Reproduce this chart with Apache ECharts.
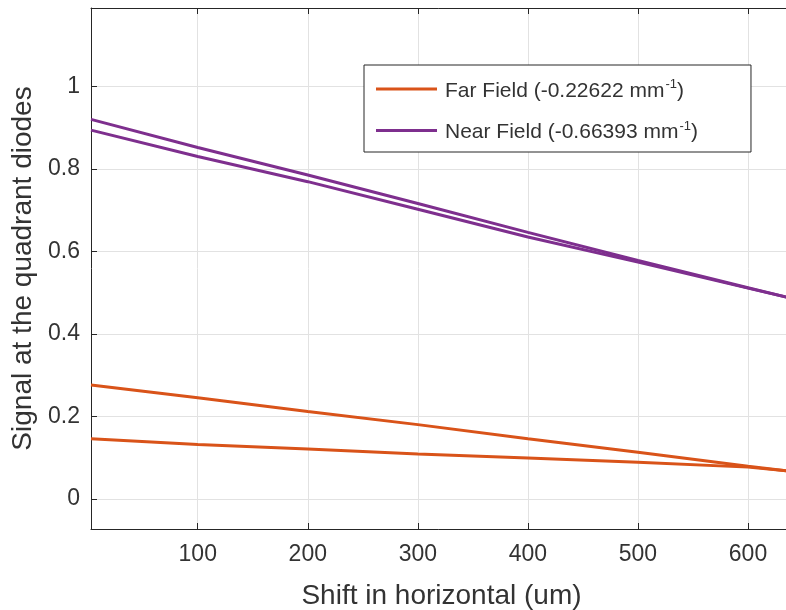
<!DOCTYPE html>
<html>
<head>
<meta charset="utf-8">
<script src="https://cdn.jsdelivr.net/npm/echarts@6/dist/echarts.min.js"></script>
<style>
  html, body { margin: 0; padding: 0; background: #fff; }
  #chart { width: 786px; height: 610px; }
</style>
</head>
<body>
<div id="chart"></div>
<script>
var shift = [3, 100, 200, 300, 400, 500, 600, 635];
var farA = [0.276, 0.245, 0.212, 0.180, 0.146, 0.113, 0.079, 0.068];
var farB = [0.146, 0.132, 0.121, 0.109, 0.099, 0.089, 0.077, 0.068];
var nearA = [0.920, 0.852, 0.785, 0.716, 0.646, 0.578, 0.512, 0.489];
var nearB = [0.894, 0.830, 0.769, 0.702, 0.635, 0.574, 0.511, 0.489];
var xTicks = [100, 200, 300, 400, 500, 600];
var yTicks = [0, 0.2, 0.4, 0.6, 0.8, 1];

var farColor = '#D95319';
var nearColor = '#7E2F8E';
var axisColor = '#262626';
var textColor = '#333333';
var font = 'Liberation Sans, Arial, Helvetica, sans-serif';

function pairs(ys) {
    return shift.map(function (x, i) { return [x, ys[i]]; });
}

function lineSeries(name, ys, color) {
    return {
        name: name,
        type: 'line',
        xAxisIndex: 0,
        data: pairs(ys),
        symbol: 'none',
        lineStyle: { color: color, width: 3 },
        itemStyle: { color: color },
        animation: false
    };
}

var legendNames = {
    'Far Field': '{f|Far Field (-0.22622 mm}{s|-1}{t|)}',
    'Near Field': '{f|Near Field (-0.66393 mm}{s|-1}{t|)}'
};

var option = {
    animation: false,
    backgroundColor: '#fff',
    textStyle: { fontFamily: font },
    grid: { left: 91, top: 8, width: 701, height: 521, containLabel: false, outerBoundsMode: 'none' },
    legend: {
        left: 364, top: 65,
        orient: 'vertical',
        padding: [13, 53, 9, 12],
        itemGap: 18,
        itemWidth: 61,
        itemHeight: 3,
        borderColor: axisColor,
        borderWidth: 1,
        borderRadius: 0,
        backgroundColor: '#fff',
        data: [
            { name: 'Far Field', icon: 'rect' },
            { name: 'Near Field', icon: 'rect' }
        ],
        formatter: function (name) { return legendNames[name]; },
        textStyle: {
            rich: {
                f: { fontSize: 21, color: textColor, fontFamily: font, padding: [4, 0, 0, 3] },
                t: { fontSize: 21, color: textColor, fontFamily: font, padding: [4, 0, 0, 0] },
                s: { fontSize: 13, color: textColor, fontFamily: font, padding: [0, 0, 9, 1] }
            }
        }
    },
    xAxis: [{
        type: 'value',
        min: 3, max: 640,
        name: 'Shift in horizontal (um)',
        nameLocation: 'middle',
        nameGap: 53,
        nameTextStyle: { fontSize: 28, color: textColor },
        axisLine: { onZero: false, lineStyle: { color: axisColor, width: 1 } },
        axisTick: { inside: true, length: 6, customValues: xTicks, lineStyle: { color: axisColor } },
        axisLabel: { customValues: xTicks, fontSize: 23, color: textColor, margin: 14 },
        splitLine: { show: true, customValues: xTicks, lineStyle: { color: '#e2e2e2', width: 1 } }
    }, {
        type: 'value',
        position: 'top',
        min: 3, max: 640,
        axisLine: { onZero: false, lineStyle: { color: axisColor, width: 1 } },
        axisTick: { inside: true, length: 6, customValues: xTicks, lineStyle: { color: axisColor } },
        axisLabel: { show: false },
        splitLine: { show: false }
    }],
    yAxis: {
        type: 'value',
        min: -0.073, max: 1.19,
        name: 'Signal at the quadrant diodes',
        nameLocation: 'middle',
        nameGap: 54,
        nameTextStyle: { fontSize: 28, color: textColor },
        axisLine: { show: true, onZero: false, lineStyle: { color: axisColor, width: 1 } },
        axisTick: { show: true, inside: true, length: 6, customValues: yTicks, lineStyle: { color: axisColor } },
        axisLabel: { customValues: yTicks, fontSize: 23, color: textColor, margin: 11 },
        splitLine: { show: true, customValues: yTicks, lineStyle: { color: '#e2e2e2', width: 1 } }
    },
    series: [
        lineSeries('Far Field', farA, farColor),
        lineSeries('Far Field', farB, farColor),
        lineSeries('Near Field', nearA, nearColor),
        lineSeries('Near Field', nearB, nearColor)
    ]
};

echarts.init(document.getElementById('chart')).setOption(option);
</script>
</body>
</html>
